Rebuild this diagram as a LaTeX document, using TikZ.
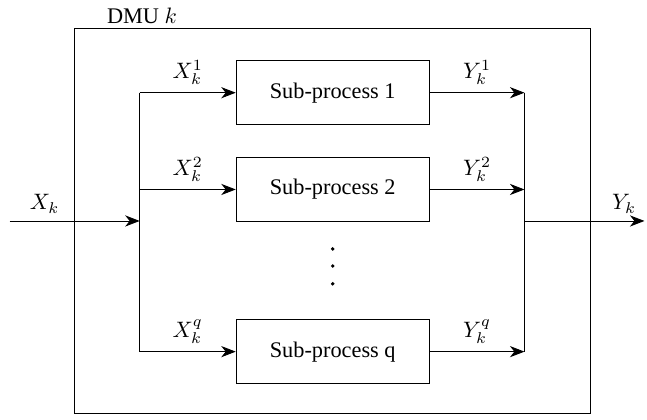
\documentclass[tikz,border=0pt]{standalone}
\usepackage{fontspec}
\setmainfont{Liberation Serif}
\usetikzlibrary{positioning, arrows.meta}

\begin{document}
\begin{tikzpicture}[
  every node/.style={font=\normalsize},
  frame/.style={
    draw,
    minimum width=8.13cm,
    minimum height=6.05cm,
  },
  subproc/.style={
    draw,
    minimum width=3.04cm,
    minimum height=1.01cm,
    inner sep=2pt,
  },
  flow/.style={
    -{Stealth[length=6.5pt, width=5pt, inset=2pt]},
  },
]
  \useasboundingbox (-5.24,-3.12) rectangle (4.95,3.48);

  \node[frame] (dmu) at (0,0) {};
  \node[above right=0pt and 0.44cm of dmu.north west, inner sep=2pt] (dmulabel) {DMU $k$};

  \node[subproc] (sp1) at (0,2.02) {Sub-process 1};
  \node[subproc, below=0.50cm of sp1] (sp2) {Sub-process 2};
  \node[subproc, below=1.53cm of sp2] (spq) {Sub-process q};

  \coordinate (in) at (-5.09,0);
  \coordinate (split) at (-3.04,0);
  \coordinate (merge) at (3.02,0);
  \coordinate (out) at (4.91,0);

  \draw[flow] (in) -- node[above, pos=0.27] (xin) {$X_k$} (split);
  \draw (split |- sp1) -- (split |- spq);
  \draw (merge |- sp1) -- (merge |- spq);
  \draw[flow] (merge) -- node[above, pos=0.83] (yout) {$Y_k$} (out);

  \foreach \n/\s in {sp1/1, sp2/2, spq/q} {
    \draw[flow] (split |- \n) -- node[above] (x\s) {$X_k^{\s}$} (\n);
    \draw[flow] (\n) -- node[above] (y\s) {$Y_k^{\s}$} (merge |- \n);
  }

  % vertical dots between sub-process 2 and q
  \foreach \y in {-0.44, -0.71, -0.99}
    \fill (0,\y) circle (0.03);
\end{tikzpicture}
\end{document}
